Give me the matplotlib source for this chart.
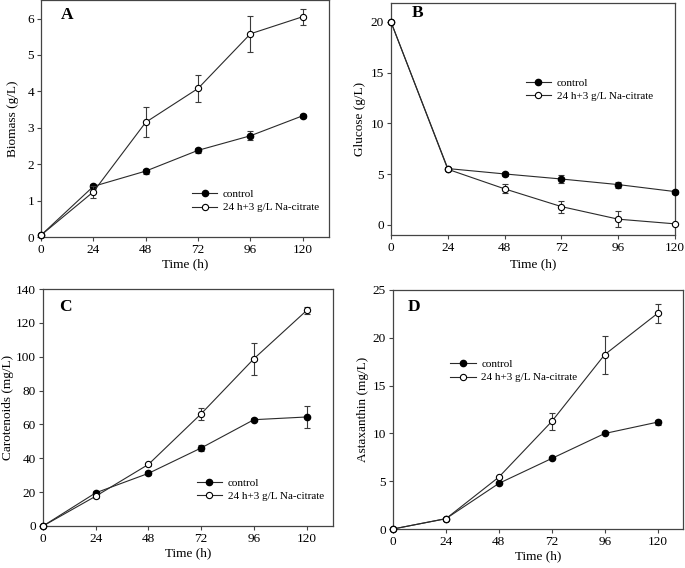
import matplotlib
matplotlib.use("Agg")
import matplotlib.pyplot as plt
from matplotlib.lines import Line2D

plt.rcParams['font.family'] = ['Liberation Serif', 'DejaVu Serif']

time = [0, 24, 48, 72, 96, 120]
xticks = [0, 24, 48, 72, 96, 120]

# Panel A: Biomass (g/L)
bio_ctrl = [0.05, 1.39, 1.81, 2.38, 2.78, 3.33]
bio_ctrl_err = [0.0, 0.06, 0.07, 0.07, 0.13, 0.05]
bio_cit = [0.05, 1.24, 3.15, 4.08, 5.58, 6.05]
bio_cit_err = [0.0, 0.16, 0.41, 0.38, 0.5, 0.22]

# Panel B: Glucose (g/L)
glu_ctrl = [20.0, 5.55, 5.02, 4.52, 3.97, 3.28]
glu_ctrl_err = [0.0, 0.1, 0.2, 0.35, 0.3, 0.2]
glu_cit = [20.0, 5.48, 3.55, 1.8, 0.56, 0.1]
glu_cit_err = [0.0, 0.1, 0.45, 0.6, 0.8, 0.0]

# Panel C: Carotenoids (mg/L)
car_ctrl = [0.0, 19.6, 31.1, 46.1, 62.8, 64.4]
car_ctrl_err = [0.0, 1.0, 1.2, 2.0, 1.0, 6.6]
car_cit = [0.0, 17.6, 36.4, 66.3, 98.8, 127.3]
car_cit_err = [0.0, 0.8, 0.8, 3.7, 9.5, 2.1]

# Panel D: Astaxanthin (mg/L)
ast_ctrl = [0.0, 1.08, 4.77, 7.38, 9.99, 11.18]
ast_ctrl_err = [0.0, 0.1, 0.1, 0.1, 0.1, 0.25]
ast_cit = [0.0, 1.08, 5.43, 11.25, 18.24, 22.56]
ast_cit_err = [0.0, 0.1, 0.1, 0.85, 2.0, 1.0]

labels = ['control', '24 h+3 g/L Na-citrate']

W, H = 685, 568
fig = plt.figure(figsize=(W / 100, H / 100), dpi=100)

def pix_axes(l, r, t, b):
    return fig.add_axes([l / W, (H - b) / H, (r - l) / W, (b - t) / H])

panels = [
    dict(box=(41, 329, 0.3, 237), ctrl=(bio_ctrl, bio_ctrl_err), cit=(bio_cit, bio_cit_err),
         ylabel='Biomass (g/L)', ylim=(0, 6.5), yticks=[0, 1, 2, 3, 4, 5, 6], xlim=(0, 132),
         letter='A', lpos=(0.09, 0.937), leg=(0.524, 0.152), ylc=-0.097, xlc=-0.114),
    dict(box=(391, 675, 2.7, 235), ctrl=(glu_ctrl, glu_ctrl_err), cit=(glu_cit, glu_cit_err),
         ylabel='Glucose (g/L)', ylim=(-1.0, 21.9), yticks=[0, 5, 10, 15, 20], xlim=(0, 120),
         letter='B', lpos=(0.093, 0.956), leg=(0.474, 0.626), ylc=-0.109, xlc=-0.125),
    dict(box=(43, 333, 289, 526), ctrl=(car_ctrl, car_ctrl_err), cit=(car_cit, car_cit_err),
         ylabel='Carotenoids (mg/L)', ylim=(0, 140), yticks=list(range(0, 141, 20)), xlim=(0, 132),
         letter='C', lpos=(0.079, 0.922), leg=(0.530, 0.155), ylc=-0.121, xlc=-0.116),
    dict(box=(393, 683, 290, 529), ctrl=(ast_ctrl, ast_ctrl_err), cit=(ast_cit, ast_cit_err),
         ylabel='Astaxanthin (mg/L)', ylim=(0, 25), yticks=[0, 5, 10, 15, 20, 25], xlim=(0, 131.5),
         letter='D', lpos=(0.072, 0.927), leg=(0.197, 0.661), ylc=-0.103, xlc=-0.115),
]

lc = '#2a2a2a'
sc = '#444444'
for p in panels:
    ax = pix_axes(*p['box'])
    cy, ce = p['ctrl']
    oy, oe = p['cit']
    h1 = ax.errorbar(time, cy, yerr=ce, color=lc, ecolor='#3a3a3a', lw=0.8, elinewidth=0.8,
                     capsize=2.5, capthick=0.8, marker='o', ms=4.5, mfc='black', mec='black',
                     clip_on=False, zorder=3)
    h2 = ax.errorbar(time, oy, yerr=oe, color=lc, ecolor='#3a3a3a', lw=0.8, elinewidth=0.8,
                     capsize=2.5, capthick=0.8, marker='o', ms=4.5, mfc='white', mec='black',
                     mew=0.8, clip_on=False, zorder=4)
    for bars in (h1[2], h2[2]):
        for b in bars:
            b.set_clip_on(False)
    for caps in (h1[1], h2[1]):
        for c in caps:
            c.set_clip_on(False)
    ax.set_xlim(*p['xlim'])
    ax.set_ylim(*p['ylim'])
    ax.set_xticks(xticks)
    ax.set_yticks(p['yticks'])
    ax.tick_params(direction='out', length=3, width=0.8, color=sc, labelsize=9.5, pad=2)
    for s in ax.spines.values():
        s.set_color(sc)
        s.set_linewidth(0.9)
    ax.set_xlabel('Time (h)', fontsize=9.5)
    ax.set_ylabel(p['ylabel'], fontsize=9.5)
    ax.yaxis.set_label_coords(p['ylc'], 0.5)
    ax.yaxis.label.set_va('center')
    ax.xaxis.set_label_coords(0.5, p['xlc'])
    ax.xaxis.label.set_va('center')
    ax.text(p['lpos'][0], p['lpos'][1], p['letter'], transform=ax.transAxes, fontsize=12.5,
            fontweight='bold', ha='center', va='center')
    hh1 = Line2D([], [], color=lc, lw=0.8, marker='o', ms=4.5, mfc='black', mec='black')
    hh2 = Line2D([], [], color=lc, lw=0.8, marker='o', ms=4.5, mfc='white', mec='black', mew=0.8)
    ax.legend(handles=[hh1, hh2], labels=labels, loc='center left',
              bbox_to_anchor=p['leg'], frameon=False, fontsize=8, borderpad=0,
              borderaxespad=0, handlelength=2.3, handletextpad=0.5, labelspacing=0.3)

fig.savefig('out.png', dpi=100)
